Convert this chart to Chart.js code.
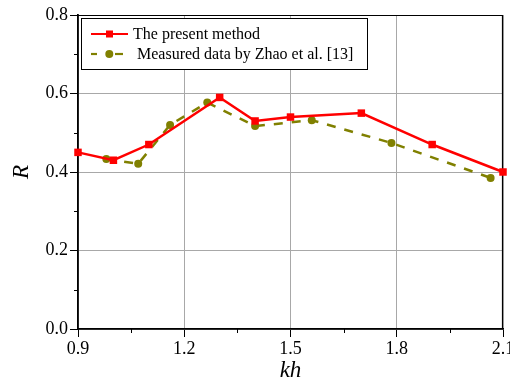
<!DOCTYPE html>
<html>
<head>
<meta charset="utf-8">
<script src="https://cdn.jsdelivr.net/npm/chart.js@4/dist/chart.umd.min.js"></script>
<style>
  html, body { margin: 0; padding: 0; background: #fff; }
  #wrap { position: relative; width: 510px; height: 385px; }
  #legend {
    position: absolute; left: 81px; top: 18px; width: 285px; height: 50px;
    border: 1px solid #000; background: #fff;
    font-family: "Liberation Serif", "Times New Roman", serif; font-size: 16px; color: #000;
  }
  .item { position: absolute; left: 6px; height: 20px; line-height: 20px; white-space: pre; }
  .item svg { position: absolute; left: 0; top: 0; }
  .item span { position: absolute; top: 0; }
</style>
</head>
<body>
<div id="wrap">
  <canvas id="graph" width="510" height="385"></canvas>
  <div id="legend">
    <div class="item" style="top:5px">
      <svg width="44" height="20"><line x1="3" y1="10" x2="40" y2="10" stroke="#ff0000" stroke-width="2.2"/><rect x="18" y="6.5" width="7" height="7" fill="#ff0000"/></svg>
      <span style="left:45px">The present method</span>
    </div>
    <div class="item" style="top:25px">
      <svg width="44" height="20"><line x1="3" y1="10" x2="9" y2="10" stroke="#808000" stroke-width="2.2"/><line x1="27" y1="10" x2="35" y2="10" stroke="#808000" stroke-width="2.2"/><circle cx="21.3" cy="10" r="4" fill="#808000"/></svg>
      <span style="left:45px"> Measured data by Zhao et al. [13]</span>
    </div>
  </div>
</div>
<script>
const kh = [0.9, 1.0, 1.1, 1.3, 1.4, 1.5, 1.7, 1.9, 2.1];
const rPresent = [0.45, 0.43, 0.47, 0.59, 0.53, 0.54, 0.55, 0.47, 0.40];
const khZhao = [0.98, 1.07, 1.16, 1.265, 1.40, 1.56, 1.785, 2.065];
const rZhao = [0.433, 0.421, 0.52, 0.577, 0.517, 0.532, 0.474, 0.385];

const serif = "'Liberation Serif', 'Times New Roman', serif";

// frame on top/right plus the small minor ticks between labels
const framePlugin = {
    id: 'frame',
    beforeDatasetsDraw(chart) {
        const {ctx, chartArea: a, scales} = chart;
        ctx.save();
        ctx.strokeStyle = '#000';
        ctx.lineWidth = 1.2;
        ctx.beginPath();
        ctx.moveTo(a.left, a.top + 0.5);
        ctx.lineTo(a.right - 0.5, a.top + 0.5);
        ctx.lineTo(a.right - 0.5, a.bottom);
        ctx.stroke();
        ctx.lineWidth = 1;
        ctx.beginPath();
        const xt = scales.x.ticks;
        for (let i = 0; i < xt.length - 1; i++) {
            const px = Math.round(scales.x.getPixelForValue((xt[i].value + xt[i + 1].value) / 2)) + 0.5;
            ctx.moveTo(px, a.bottom);
            ctx.lineTo(px, a.bottom + 4);
        }
        const yt = scales.y.ticks;
        for (let i = 0; i < yt.length - 1; i++) {
            const py = Math.round(scales.y.getPixelForValue((yt[i].value + yt[i + 1].value) / 2)) + 0.5;
            ctx.moveTo(a.left, py);
            ctx.lineTo(a.left - 4, py);
        }
        ctx.stroke();
        ctx.restore();
    }
};

new Chart(document.getElementById('graph').getContext('2d'), {
    type: 'scatter',
    data: {
        datasets: [{
            label: 'The present method',
            data: kh.map((v, i) => ({x: v, y: rPresent[i]})),
            showLine: true,
            borderColor: '#ff0000',
            backgroundColor: '#ff0000',
            borderWidth: 2.5,
            pointStyle: 'rect',
            pointRadius: 5.3,
            pointHoverRadius: 5.3,
            pointBorderWidth: 0,
            clip: false
        }, {
            label: 'Measured data by Zhao et al. [13]',
            data: khZhao.map((v, i) => ({x: v, y: rZhao[i]})),
            showLine: true,
            borderColor: '#808000',
            backgroundColor: '#808000',
            borderWidth: 2.5,
            borderDash: [9, 9],
            pointStyle: 'circle',
            pointRadius: 4,
            pointHoverRadius: 4,
            pointBorderWidth: 0,
            clip: false
        }]
    },
    options: {
        responsive: false,
        maintainAspectRatio: false,
        animation: false,
        layout: { padding: { left: 0, right: 7, top: 15, bottom: 0 } },
        plugins: { legend: { display: false }, tooltip: { enabled: false } },
        scales: {
            x: {
                type: 'linear',
                min: 0.9, max: 2.1,
                ticks: {
                    stepSize: 0.3,
                    color: '#000',
                    padding: 1,
                    maxRotation: 0,
                    font: { family: serif, size: 18 },
                    callback: (v) => v.toFixed(1)
                },
                grid: { color: '#a8a8a8', lineWidth: 1, tickLength: 8, tickColor: '#000' },
                border: { color: '#000', width: 1.8 },
                title: {
                    display: true, text: 'kh', color: '#000',
                    font: { family: serif, size: 23, style: 'italic' },
                    padding: { top: 0, bottom: 0 }
                },
                afterFit: (s) => { s.height = 56; s.paddingLeft = 0; s.paddingRight = 0; }
            },
            y: {
                min: 0, max: 0.8,
                ticks: {
                    stepSize: 0.2,
                    color: '#000',
                    padding: 2,
                    font: { family: serif, size: 18 },
                    callback: (v) => v.toFixed(1)
                },
                grid: { color: '#a8a8a8', lineWidth: 1, tickLength: 8, tickColor: '#000' },
                border: { color: '#000', width: 1.8 },
                title: {
                    display: true, text: 'R', color: '#000',
                    font: { family: serif, size: 23, style: 'italic' },
                    padding: { top: 8, bottom: 0 }
                },
                afterFit: (s) => { s.width = 78; s.paddingTop = 0; s.paddingBottom = 0; }
            }
        }
    },
    plugins: [framePlugin]
});
</script>
</body>
</html>
